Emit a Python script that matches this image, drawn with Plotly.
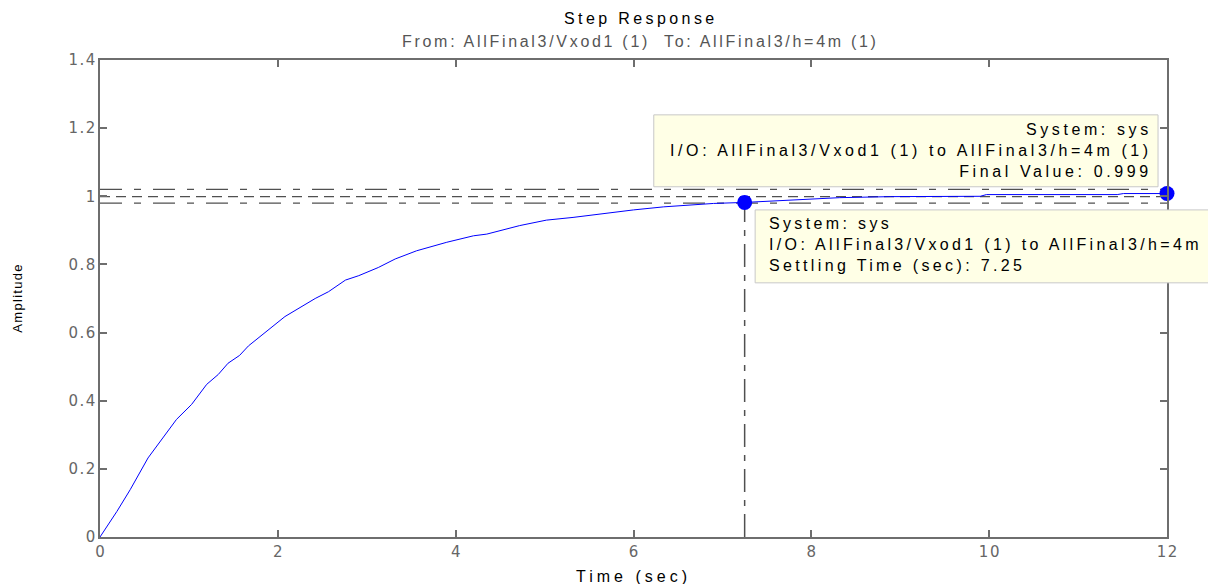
import plotly.graph_objects as go

# ---- data ----
time = [0, 0.19, 0.34, 0.54, 0.86, 1.03, 1.20, 1.33, 1.44, 1.57, 1.67, 2.08, 2.42, 2.57,
        2.76, 2.91, 3.13, 3.32, 3.56, 3.90, 4.20, 4.35, 4.72, 5.02, 5.32, 5.55, 6.0,
        6.34, 6.67, 6.90, 7.25, 7.87, 8.32, 8.89, 9.90, 9.97, 11.44, 11.51, 12.0]
amplitude = [0, 0.075, 0.139, 0.232, 0.345, 0.389, 0.448, 0.477, 0.51, 0.533, 0.561, 0.647,
             0.70, 0.72, 0.754, 0.767, 0.791, 0.816, 0.84, 0.865, 0.884, 0.889, 0.914, 0.93,
             0.938, 0.946, 0.96, 0.969, 0.975, 0.979, 0.982, 0.989, 0.996, 0.999, 1.0,
             1.005, 1.005, 1.008, 1.008]
settling_time = 7.25
settling_marker = 0.982
final_value = 0.999
band_upper = 1.02
band_lower = 0.98
t_end = 12
x_ticks = [0, 2, 4, 6, 8, 10, 12]
x_tick_text = ["0", "2", "4", "6", "8", "10", "12"]
y_ticks = [0, 0.2, 0.4, 0.6, 0.8, 1.0, 1.2, 1.4]
y_tick_text = ["0", "0.2", "0.4", "0.6", "0.8", "1", "1.2", "1.4"]

title_text = "Step Response"
subtitle_text = "From: AllFinal3/Vxod1 (1)  To: AllFinal3/h=4m (1)"
box1_lines = ["System: sys", "I/O: AllFinal3/Vxod1 (1) to AllFinal3/h=4m (1)", "Final Value: 0.999"]
box2_lines = ["System: sys", "I/O: AllFinal3/Vxod1 (1) to AllFinal3/h=4m", "Settling Time (sec): 7.25"]
x_label = "Time (sec)"
y_label = "Amplitude"

FONT = "Liberation Sans, Arial, sans-serif"
TICKFONT = "DejaVu Sans"
AX = "#6e6e6e"
LINE_C = "#505050"


def spaced(text, px):
    return '<span style="letter-spacing:%spx">%s</span>' % (px, text)


def spaced_lines(lines, px):
    return "<br>".join(spaced(s, px) for s in lines)


def spaced_tick(text, px):
    # spacing between glyphs only (no trailing space after the last glyph)
    if len(text) < 2:
        return text
    return spaced(text[:-1], px) + text[-1]


fig = go.Figure()

# settling band and final value lines
fig.add_trace(go.Scatter(x=[0, t_end], y=[band_upper, band_upper], mode="lines",
                         line=dict(color=LINE_C, width=1.2, dash="22px,12px,7px,12px"),
                         hoverinfo="skip", showlegend=False))
fig.add_trace(go.Scatter(x=[0, t_end], y=[final_value, final_value], mode="lines",
                         line=dict(color=LINE_C, width=1.2, dash="10px,6px"),
                         hoverinfo="skip", showlegend=False))
fig.add_trace(go.Scatter(x=[0, t_end], y=[band_lower, band_lower], mode="lines",
                         line=dict(color=LINE_C, width=1.2, dash="22px,12px,7px,12px"),
                         hoverinfo="skip", showlegend=False))
# vertical settling-time line
fig.add_trace(go.Scatter(x=[settling_time, settling_time], y=[0, band_lower], mode="lines",
                         line=dict(color=LINE_C, width=1.5, dash="23px,8px,6px,8px"),
                         hoverinfo="skip", showlegend=False))

# step response curve
fig.add_trace(go.Scatter(x=time, y=amplitude, mode="lines",
                         line=dict(color="#0000ff", width=1), showlegend=False))

# markers
fig.add_trace(go.Scatter(x=[settling_time, time[-1]], y=[settling_marker, amplitude[-1]],
                         mode="markers", marker=dict(color="#0000ff", size=15),
                         showlegend=False, cliponaxis=False))

# data tip boxes
fig.add_shape(type="rect", xref="paper", yref="y", x0=0.519, x1=0.9916, y0=1.028, y1=1.239,
              fillcolor="#ffffe6", line=dict(color="#c8c8c8", width=1), layer="above")
fig.add_shape(type="rect", xref="paper", yref="y", x0=0.614, x1=1.2, y0=0.746, y1=0.960,
              fillcolor="#ffffe6", line=dict(color="#c8c8c8", width=1), layer="above")

fig.add_annotation(text=spaced_lines(box1_lines, 3.6), xref="paper", yref="y", x=0.9875, y=1.133,
                   xanchor="right", yanchor="middle", align="right", showarrow=False,
                   font=dict(family=FONT, size=16, color="#000000"))
fig.add_annotation(text=spaced_lines(box2_lines, 3.35), xref="paper", yref="y", x=0.625, y=0.858,
                   xanchor="left", yanchor="middle", align="left", showarrow=False,
                   font=dict(family=FONT, size=16, color="#000000"))

# titles
fig.add_annotation(text=spaced(title_text, 3.4), xref="paper", yref="paper", x=0.507, y=1.088,
                   xanchor="center", yanchor="middle", showarrow=False,
                   font=dict(family=FONT, size=16, color="#000000"))
fig.add_annotation(text=spaced(subtitle_text, 2.7), xref="paper", yref="paper", x=0.507, y=1.038,
                   xanchor="center", yanchor="middle", showarrow=False,
                   font=dict(family=FONT, size=16, color="#555555"))
fig.add_annotation(text=spaced(x_label, 4), xref="paper", yref="paper", x=0.50, y=-0.0827,
                   xanchor="center", yanchor="middle", showarrow=False,
                   font=dict(family=FONT, size=16, color="#000000"))
fig.add_annotation(text=spaced(y_label, 1.3), xref="paper", yref="paper", x=-0.0769, y=0.5016,
                   xanchor="center", yanchor="middle", showarrow=False, textangle=-90,
                   font=dict(family=FONT, size=13, color="#000000"))

fig.update_layout(
    width=1208, height=584,
    margin=dict(l=100, r=41, t=60, b=47),
    paper_bgcolor="white", plot_bgcolor="white",
    font=dict(family=FONT, size=15, color="#666666"),
    xaxis=dict(range=[0, t_end], tickvals=x_ticks,
               ticktext=[spaced_tick(s, 1.5) for s in x_tick_text],
               showgrid=False, zeroline=False,
               showline=True, linecolor=AX, linewidth=1.5, mirror="ticks",
               ticks="inside", ticklen=7, tickcolor=AX, tickwidth=1.5,
               tickfont=dict(family=TICKFONT, size=15, color="#666666")),
    yaxis=dict(range=[0, 1.4], tickvals=y_ticks,
               ticktext=[spaced_tick(s, 1.5) for s in y_tick_text], showgrid=False,
               zeroline=False, showline=True, linecolor=AX, linewidth=1.5, mirror="ticks",
               ticks="inside", ticklen=7, tickcolor=AX, tickwidth=1.5,
               tickfont=dict(family=TICKFONT, size=15, color="#666666")),
)

fig.write_html("out.html")
